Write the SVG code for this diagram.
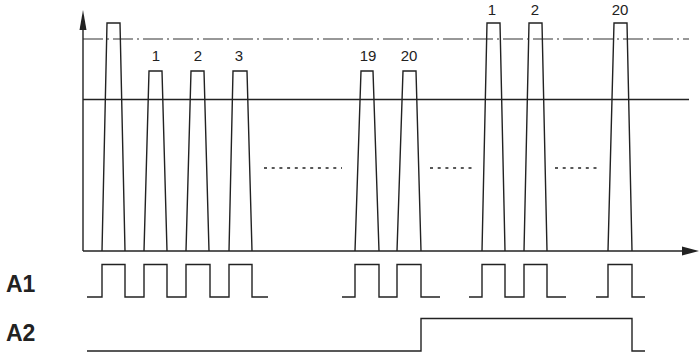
<svg xmlns="http://www.w3.org/2000/svg" width="700" height="361" viewBox="0 0 700 361">
<style>
.ln{fill:none;stroke:#222;stroke-width:1.4;stroke-linejoin:miter}
.ref{fill:none;stroke:#777;stroke-width:1.3;stroke-dasharray:20 4 2 4}
.dot{fill:none;stroke:#222;stroke-width:1.4;stroke-dasharray:3 4.7}
.num{font-family:"Liberation Sans",Arial,sans-serif;font-size:15px;fill:#222;text-anchor:middle}
.lab{font-family:"Liberation Sans",Arial,sans-serif;font-size:23px;font-weight:bold;fill:#222}
</style>
<rect width="700" height="361" fill="#fff"/>
<g id="axes">
<line class="ref" x1="83" y1="39" x2="689" y2="39"/>
<line class="ln" x1="83" y1="99.5" x2="689" y2="99.5"/>
<line class="ln" x1="83" y1="251" x2="83" y2="28"/>
<line class="ln" x1="83" y1="251" x2="684" y2="251"/>
<polygon points="83,10 79.5,30 86.5,30" fill="#222"/>
<polygon points="699,251 682,246.5 682,255.5" fill="#222"/>
</g>
<g id="pulses">
<path class="ln" d="M102,251 L107,23 L120,23 L125,251"/>
<path class="ln" d="M144,251 L149,71 L162,71 L167,251"/>
<path class="ln" d="M186,251 L191,71 L204,71 L209,251"/>
<path class="ln" d="M229,251 L233,71 L247,71 L252,251"/>
<path class="ln" d="M355,251 L361,71 L373,71 L379,251"/>
<path class="ln" d="M397,251 L403,71 L416,71 L421,251"/>
<path class="ln" d="M482,251 L487,23 L500,23 L505,251"/>
<path class="ln" d="M524,251 L529,23 L542,23 L547,251"/>
<path class="ln" d="M608,251 L614,23 L627,23 L632,251"/>
</g>
<g id="dots">
<line class="dot" x1="264" y1="168" x2="342" y2="168"/>
<line class="dot" x1="430" y1="168" x2="472" y2="168"/>
<line class="dot" x1="555" y1="168" x2="597" y2="168"/>
</g>
<g id="numbers">
<text class="num" x="156" y="60.5">1</text>
<text class="num" x="198" y="60.5">2</text>
<text class="num" x="239" y="60.5">3</text>
<text class="num" x="368" y="60.5">19</text>
<text class="num" x="409" y="60.5">20</text>
<text class="num" x="492" y="15">1</text>
<text class="num" x="535" y="15">2</text>
<text class="num" x="620" y="15">20</text>
</g>
<g id="A1">
<text class="lab" x="6" y="292">A1</text>
<path class="ln" d="M87,297 H102 V264.5 H125 V297 H144 V264.5 H167 V297 H186 V264.5 H210 V297 H229 V264.5 H252 V297 H268"/>
<path class="ln" d="M342,297 H355 V264.5 H379 V297 H397 V264.5 H421 V297 H440"/>
<path class="ln" d="M469,297 H482 V264.5 H505 V297 H524 V264.5 H547 V297 H566"/>
<path class="ln" d="M596,297 H608 V264.5 H632 V297 H645"/>
</g>
<g id="A2">
<text class="lab" x="6" y="341">A2</text>
<path class="ln" d="M87,351 H421 V318.5 H632 V351 H645"/>
</g>
</svg>
